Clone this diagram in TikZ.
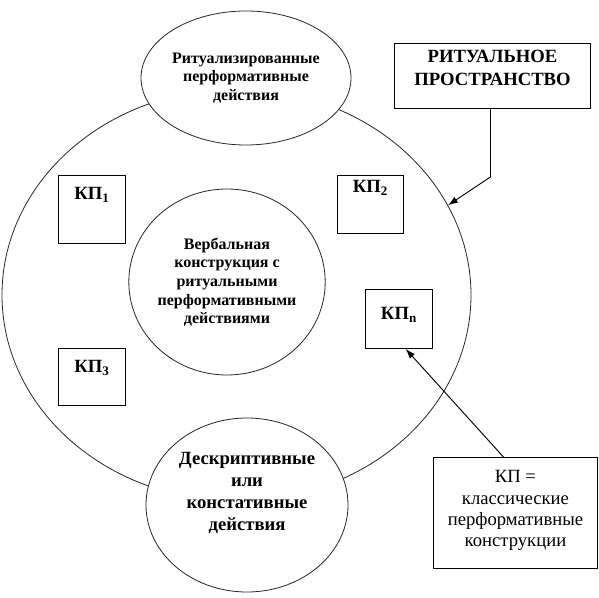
\documentclass[tikz,border=0pt]{standalone}
\usepackage{fontspec}
\setmainfont{Liberation Serif}
\usetikzlibrary{arrows.meta,positioning,shapes.geometric}

\begin{document}
\begin{tikzpicture}[x=0.75pt,y=-0.75pt,
  round/.style={ellipse,draw=black!85,line width=0.6pt,fill=white,inner sep=0pt,align=center},
  kpbox/.style={draw,line width=0.7pt,anchor=north west,inner sep=0pt,minimum width=50.25pt,font=\fontsize{14}{17}\selectfont\bfseries},
  note/.style={draw,line width=0.7pt,anchor=north west,inner sep=0pt,align=center},
  arrow/.style={-{Latex[length=2.6mm,width=1.8mm]},line width=0.7pt}
]
\useasboundingbox (0,0) rectangle (599,598);
% outer ritual space
\node[round,fill=none,minimum width=351.75pt,minimum height=309pt] (ring) at (236.5,295) {};
\node[round,minimum width=157.5pt,minimum height=100.5pt,font=\fontsize{12}{14}\selectfont\bfseries] (ritualized) at (246,78) {Ритуализированные\\перформативные\\действия};
\node[round,minimum width=136.5pt,minimum height=139.5pt,font=\fontsize{12}{14}\selectfont\bfseries] (verbal) at (227,282) {Вербальная\\конструкция с\\ритуальными\\перформативными\\действиями};
\node[round,minimum width=151.5pt,minimum height=130.5pt,text height=59.5pt,text depth=21pt,font=\fontsize{14}{16.5}\selectfont\bfseries] (descr) at (247,505) {Дескриптивные\\или\\констативные\\действия};
% classical constructions
\node[kpbox,text height=18pt,text depth=33pt] (kp1) at (58,175) {КП\textsubscript{1}};
\node[kpbox,minimum width=49.5pt,text height=13pt,text depth=30.5pt] (kp2) at (337,175) {КП\textsubscript{2}};
\node[kpbox,text height=22.5pt,text depth=21.75pt] (kpn) at (365,289) {КП\textsubscript{n}};
\node[kpbox,text height=18pt,text depth=24.75pt] (kp3) at (58,348) {КП\textsubscript{3}};
% labels
\node[note,minimum width=147pt,text height=31.5pt,text depth=17.25pt,font=\fontsize{14}{17}\selectfont\bfseries] (space) at (394,43) {РИТУАЛЬНОЕ\\ПРОСТРАНСТВО};
\node[note,minimum width=123pt,text height=67pt,text depth=16.25pt,font=\fontsize{14}{16}\selectfont] (legend) at (433,457) {КП =\\классические\\перформативные\\конструкции};
\draw[arrow] ([xshift=-1.5pt]space.south) -- ++(0,68) -- (ring.23);
\draw[arrow] ([xshift=-9pt]legend.north) -- ([xshift=5pt]kpn.south);
\end{tikzpicture}
\end{document}
